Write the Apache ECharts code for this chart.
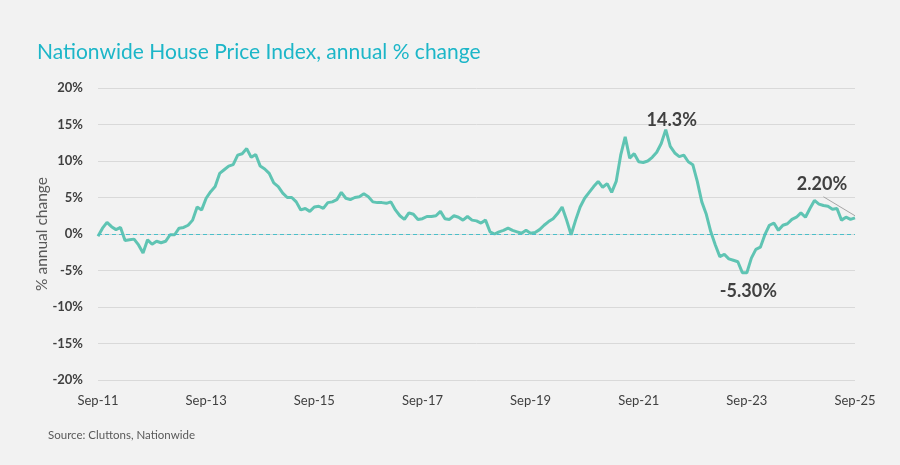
<!DOCTYPE html>
<html lang="en">
  <head>
    <meta charset="UTF-8" />
    <title>Nationwide House Price Index</title>
    <script src="https://cdn.jsdelivr.net/npm/echarts@6.0.0/dist/echarts.min.js"></script>
    <style>
      html, body { margin: 0; padding: 0; background: #f2f2f2; }
      #chart { width: 900px; height: 465px; }
    </style>
  </head>
  <body>
    <div id="chart"></div>
    <script>
      // monthly annual % change, Sep-11 .. Sep-25
      var hpi = [
        -0.3, 0.8, 1.6, 1.0, 0.6, 0.9, -0.9, -0.8, -0.7, -1.5, -2.6, -0.8,
        -1.4, -1.0, -1.2, -1.0, -0.1, -0.1, 0.8, 0.9, 1.2, 1.9, 3.7, 3.3,
        4.9, 5.8, 6.5, 8.3, 8.8, 9.3, 9.5, 10.8, 11.0, 11.7, 10.5, 10.9,
        9.3, 8.9, 8.3, 7.0, 6.5, 5.6, 5.0, 5.0, 4.4, 3.3, 3.5, 3.1,
        3.7, 3.8, 3.5, 4.3, 4.4, 4.7, 5.7, 4.9, 4.7, 5.0, 5.1, 5.5,
        5.1, 4.4, 4.3, 4.3, 4.2, 4.4, 3.3, 2.5, 2.0, 2.9, 2.7, 2.0,
        2.1, 2.4, 2.4, 2.5, 3.1, 2.1, 2.0, 2.5, 2.3, 1.9, 2.4, 1.9,
        1.8, 1.5, 1.9, 0.3, 0.0, 0.3, 0.5, 0.8, 0.5, 0.3, 0.1, 0.5,
        0.1, 0.2, 0.6, 1.2, 1.7, 2.1, 2.8, 3.7, 1.9, -0.1, 1.9, 3.7,
        4.9, 5.7, 6.5, 7.2, 6.4, 6.9, 5.7, 7.2, 10.8, 13.3, 10.4, 11.0,
        9.9, 9.8, 10.0, 10.5, 11.2, 12.4, 14.3, 12.0, 11.1, 10.6, 10.8, 9.9,
        9.5, 7.2, 4.4, 2.7, 0.3, -1.5, -3.1, -2.8, -3.4, -3.6, -3.8, -5.3,
        -5.3, -3.3, -2.1, -1.8, -0.1, 1.2, 1.5, 0.5, 1.2, 1.4, 2.0, 2.3,
        2.9, 2.3, 3.5, 4.6, 4.1, 3.9, 3.8, 3.4, 3.5, 1.9, 2.3, 2.0,
        2.2
      ]
      var monthNames = ['Jan', 'Feb', 'Mar', 'Apr', 'May', 'Jun', 'Jul', 'Aug', 'Sep', 'Oct', 'Nov', 'Dec']
      var startYear = 2011, startMonth = 8 // Sep
      var yTicks = [-20, -15, -10, -5, 0, 5, 10, 15, 20]

      // callouts: [index, value, text]
      var callouts = [
        [126, 14.3, '14.3%'],
        [143, -5.3, '-5.30%'],
        [168, 2.2, '2.20%']
      ]
      var leader = [[161, 5.1], [168, 2.5]]

      var months = []
      for (var i = 0; i < hpi.length; i++) {
        var m = (startMonth + i) % 12
        var y = startYear + Math.floor((startMonth + i) / 12)
        months.push(monthNames[m] + '-' + String(y).slice(2))
      }

      var calloutLabels = [
        { position: 'top', offset: [6, 5] },
        { position: 'bottom', offset: [6, 4] },
        { position: 'top', offset: [-33, -19] }
      ]

      var chart = echarts.init(document.getElementById('chart'))
      var option = {
        backgroundColor: '#f2f2f2',
        animation: false,
        title: {
          text: 'Nationwide House Price Index, annual % change',
          left: 32,
          top: 37,
          textStyle: { color: '#1cb6c8', fontFamily: 'Lato', fontSize: 21, fontWeight: 'normal' }
        },
        graphic: [{
          type: 'text',
          left: 48,
          top: 429,
          style: { text: 'Source: Cluttons, Nationwide', fill: '#595959', font: '11.5px Lato' }
        }],
        grid: { left: 98, right: 45, top: 88, bottom: 85 },
        xAxis: {
          type: 'category',
          data: months,
          boundaryGap: false,
          axisLine: { show: false },
          axisTick: { show: false },
          axisLabel: {
            interval: 23,
            color: '#404040',
            fontFamily: 'Lato',
            fontSize: 13,
            margin: 14
          }
        },
        yAxis: {
          type: 'value',
          min: yTicks[0],
          max: yTicks[yTicks.length - 1],
          interval: 5,
          name: '% annual change',
          nameLocation: 'middle',
          nameGap: 48,
          nameMoveOverlap: false,
          nameTextStyle: { color: '#595959', fontFamily: 'Lato', fontSize: 15.5 },
          axisLine: { show: false },
          axisTick: { show: false },
          axisLabel: {
            formatter: '{value}%',
            color: '#404040',
            fontFamily: 'Lato',
            fontWeight: 'bold',
            fontSize: 13,
            margin: 15
          },
          splitLine: { lineStyle: { color: '#d9d9d9', width: 1 } }
        },
        series: [{
          type: 'line',
          data: hpi,
          showSymbol: false,
          lineStyle: { color: '#5fc4b3', width: 3 },
          itemStyle: { color: '#5fc4b3' },
          z: 3,
          markLine: {
            silent: true,
            symbol: 'none',
            label: { show: false },
            data: [
              { yAxis: 0, lineStyle: { color: '#4bbfc9', type: [4, 3], width: 1.2 } },
              [
                { coord: leader[0], lineStyle: { color: '#a6a6a6', type: 'solid', width: 1 } },
                { coord: leader[1] }
              ]
            ]
          },
          markPoint: {
            silent: true,
            symbol: 'circle',
            symbolSize: 1,
            itemStyle: { color: 'rgba(0,0,0,0)' },
            data: callouts.map(function (c, k) {
              return {
                coord: [c[0], c[1]],
                value: c[2],
                label: Object.assign({
                  show: true,
                  formatter: c[2],
                  color: '#404040',
                  fontFamily: 'Lato',
                  fontWeight: 'bold',
                  fontSize: 18
                }, calloutLabels[k])
              }
            })
          }
        }]
      }
      chart.setOption(option)
    </script>
  </body>
</html>
